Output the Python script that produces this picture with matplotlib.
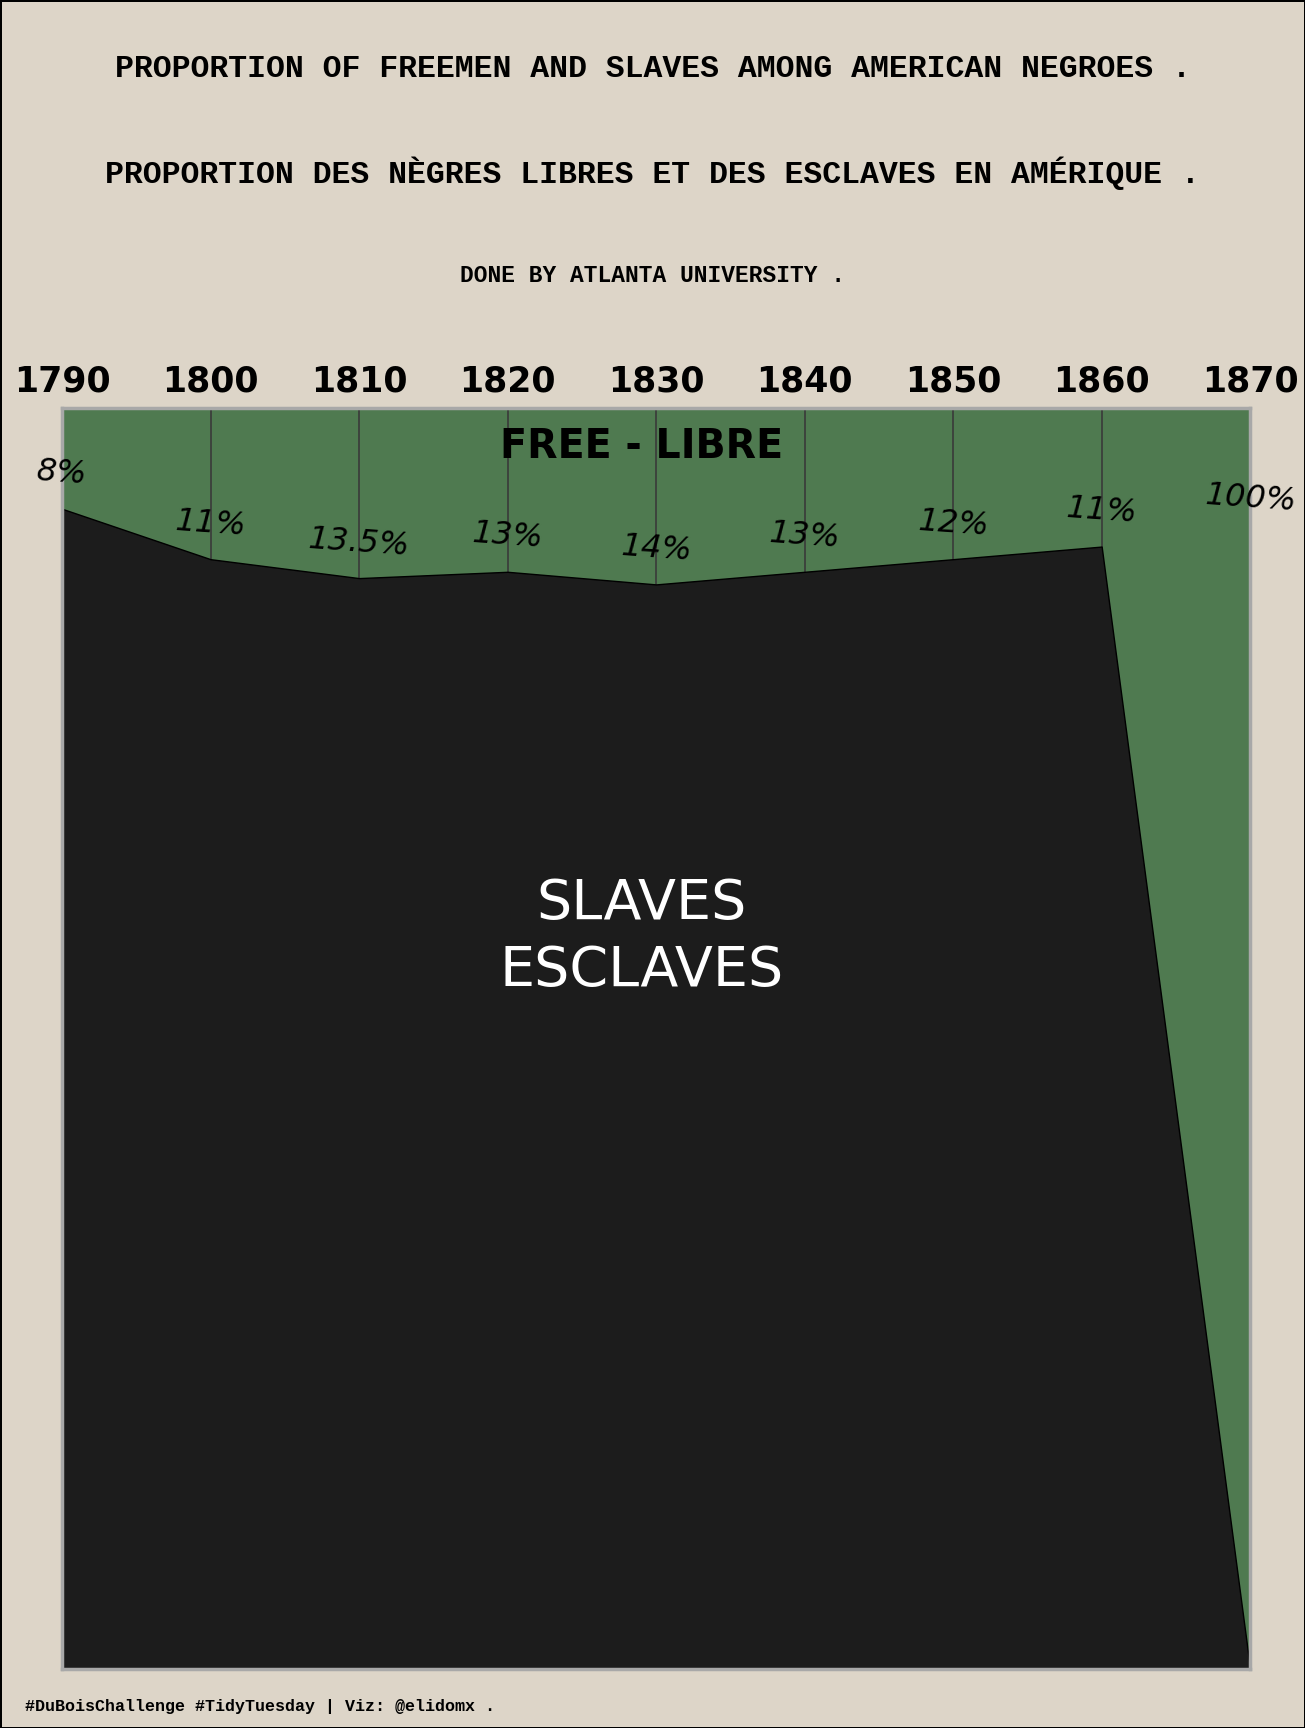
import matplotlib
matplotlib.use("Agg")
from matplotlib import pyplot as plt

# datos (Du Bois, plate 51)
anos = [1790, 1800, 1810, 1820, 1830, 1840, 1850, 1860, 1870]
escravos = [92, 88, 86.5, 87, 86, 87, 88, 89, 0]
livres = [8, 11, 13.5, 13, 14, 13, 12, 11, 100]
etiquetas = ["8%", "11%", "13.5%", "13%", "14%", "13%", "12%", "11%", "100%"]

fundo = "#ddd5c8"
verde = "#4f7a50"
preto = "#1c1c1c"

fig = plt.figure(figsize=(13.05, 17.28), dpi=100, facecolor=fundo)
fig.patch.set_edgecolor("black")
fig.patch.set_linewidth(2)

ax = fig.add_axes([0.0475, 0.034, 0.9105, 0.730])
ax.set_facecolor(verde)

for a in anos:
    ax.axvline(a, color="#3a3a3a", lw=1.2, zorder=1)

ax.fill_between(anos, 0, escravos, color=preto, edgecolor="black", lw=1, zorder=2)

ax.set_xlim(1790, 1870)
ax.set_ylim(0, 100)
ax.set_yticks([])
ax.set_xticks(anos)
ax.xaxis.tick_top()
ax.tick_params(axis="x", length=0, pad=7, labelsize=25)
for t in ax.get_xticklabels():
    t.set_fontweight("bold")

for lado in ax.spines.values():
    lado.set_color("#a8a8a8")
    lado.set_linewidth(2.5)

for a, e, txt in zip(anos, escravos, etiquetas):
    y = e + 2.8 if e > 0 else 92.8
    ax.text(a, y, txt, ha="center", va="center", fontsize=23, style="oblique",
            color="black", rotation=-4, zorder=3)

ax.text(1829, 96.9, "FREE - LIBRE", ha="center", va="center", fontsize=28.5,
        fontweight="bold", color="black", zorder=3)
ax.text(1829, 58, "SLAVES\nESCLAVES", ha="center", va="center", fontsize=40,
        color="white", linespacing=1.3, zorder=3)

mono = "Liberation Mono"
fig.text(0.5, 1 - 69 / 1728, "PROPORTION OF FREEMEN AND SLAVES AMONG AMERICAN NEGROES .",
         ha="center", va="center", fontsize=22.7, fontweight="bold", family=mono)
fig.text(0.5, 1 - 173 / 1728, "PROPORTION DES NÈGRES LIBRES ET DES ESCLAVES EN AMÉRIQUE .",
         ha="center", va="center", fontsize=22.7, fontweight="bold", family=mono)
fig.text(0.5, 1 - 276 / 1728, "DONE BY ATLANTA UNIVERSITY .",
         ha="center", va="center", fontsize=16.5, fontweight="bold", family=mono)
fig.text(25 / 1305, 1 - 1707 / 1728, "#DuBoisChallenge #TidyTuesday | Viz: @elidomx .",
         ha="left", va="center", fontsize=12, fontweight="bold", family=mono)

fig.savefig("out.png", dpi=100, facecolor=fundo, edgecolor="black")
